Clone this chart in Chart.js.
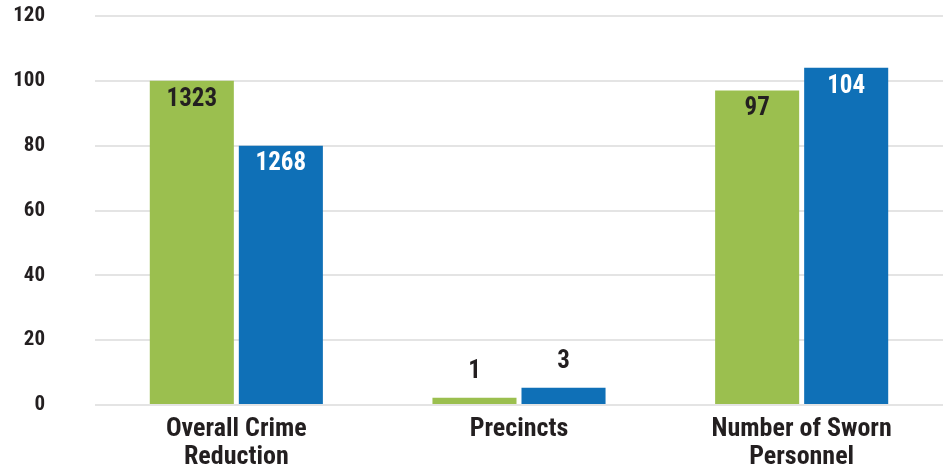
<!DOCTYPE html>
<html>
<head>
<meta charset="utf-8">
<title>Crime, Precincts and Personnel</title>
<script src="https://cdn.jsdelivr.net/npm/chart.js@4.4.1/dist/chart.umd.min.js"></script>
<style>
  html, body { margin: 0; padding: 0; background: #fff; }
  #wrap { width: 943px; height: 465px; }
</style>
</head>
<body>
<div id="wrap"><canvas id="barChart"></canvas></div>
<script>
// categories and bar heights (0-120 scale)
const categories = [["Overall Crime", "Reduction"], "Precincts", ["Number of Sworn", "Personnel"]];
const greenValues = [100, 2.2, 97];
const blueValues = [80, 5.3, 104];

// numbers printed on each bar
const greenLabels = ["1323", "1", "97"];
const blueLabels = ["1268", "3", "104"];

const yTicks = [0, 20, 40, 60, 80, 100, 120];

const FONT = "'Liberation Sans Narrow', 'Roboto Condensed', Roboto, sans-serif";
const DARK = "#231f20";
const GREEN = "#9bbf4f";
const BLUE = "#0f70b7";

const valueLabels = [greenLabels, blueLabels];
const insideColors = [DARK, "#ffffff"];

// draws the number on top of (or just above) each bar
const barLabels = {
    id: "barLabels",
    afterDatasetsDraw(chart) {
        const ctx = chart.ctx;
        ctx.save();
        ctx.font = "bold 25px " + FONT;
        ctx.textAlign = "center";
        chart.data.datasets.forEach((ds, i) => {
            const meta = chart.getDatasetMeta(i);
            meta.data.forEach((bar, j) => {
                const text = valueLabels[i][j];
                if (bar.base - bar.y > 40) {
                    ctx.textBaseline = "top";
                    ctx.fillStyle = insideColors[i];
                    ctx.fillText(text, bar.x, bar.y + 6);
                } else {
                    ctx.textBaseline = "bottom";
                    ctx.fillStyle = DARK;
                    ctx.fillText(text, bar.x, bar.y - 14);
                }
            });
        });
        ctx.restore();
    }
};

const barChart = new Chart(document.getElementById("barChart"), {
    type: "bar",
    data: {
        labels: categories,
        datasets: [
            { label: "Series 1", data: greenValues, backgroundColor: GREEN },
            { label: "Series 2", data: blueValues, backgroundColor: BLUE }
        ]
    },
    options: {
        responsive: true,
        maintainAspectRatio: false,
        animation: false,
        layout: { padding: { top: 16, left: 0, right: 0, bottom: 0 } },
        datasets: {
            bar: { categoryPercentage: 0.63, barPercentage: 0.944 }
        },
        plugins: {
            legend: { display: false },
            tooltip: { enabled: false }
        },
        scales: {
            x: {
                grid: { display: false, drawTicks: false },
                border: { display: false },
                ticks: {
                    color: DARK,
                    font: { family: FONT, size: 26, weight: "bold", lineHeight: 1.08 },
                    padding: 10,
                    maxRotation: 0
                },
                afterFit(scale) { scale.height = 60; }
            },
            y: {
                min: 0,
                max: 120,
                afterBuildTicks(scale) {
                    scale.ticks = yTicks.map(v => ({ value: v }));
                },
                grid: { color: "#e4e4e4", lineWidth: 2, drawTicks: false },
                border: { display: false },
                ticks: {
                    color: DARK,
                    font: { family: FONT, size: 21, weight: "bold" },
                    padding: 50
                },
                afterFit(scale) {
                    scale.width = 95;
                    // the wide tick padding should not push the plot area down
                    scale.paddingTop = 0;
                    scale.paddingBottom = 0;
                }
            }
        }
    },
    plugins: [barLabels]
});
</script>
</body>
</html>
